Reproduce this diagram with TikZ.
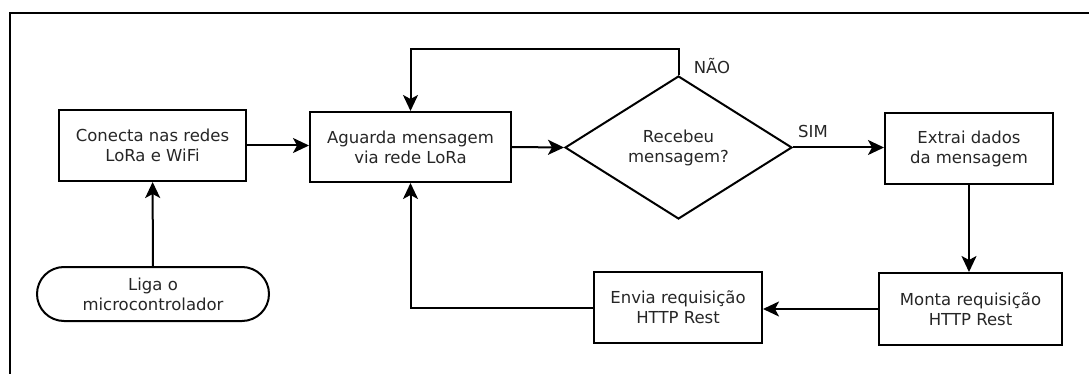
\documentclass[tikz,border=0pt]{standalone}
\usepackage{fontspec}
\setmainfont{DejaVu Sans}
\usetikzlibrary{shapes.geometric,shapes.misc,arrows.meta}
\begin{document}
\begin{tikzpicture}[x=1pt,y=-1pt,
  every node/.style={font=\fontsize{16.5}{20}\selectfont, text=black!85},
  procbox/.style={draw=black, line width=2pt, align=center, inner sep=0pt},
  startbox/.style={draw=black, line width=2pt, align=center, inner sep=0pt, rounded rectangle},
  decbox/.style={draw=black, line width=2pt, align=center, inner sep=0pt, diamond},
  flow/.style={line width=2pt, -{Stealth[length=16pt,width=15pt,inset=4pt]}},
  lbl/.style={inner sep=0pt}]
\useasboundingbox (0,0) rectangle (1089,374);
\draw[line width=2pt] (10,374) -- (10,13) -- (1089,13);

\node[procbox, minimum width=187pt, minimum height=71pt] (conecta) at (152.5,145.5) {Conecta nas redes\\LoRa e WiFi};
\node[procbox, minimum width=201pt, minimum height=70pt] (aguarda) at (410.5,147) {Aguarda mensagem\\via rede LoRa};
\node[startbox, minimum width=232pt, minimum height=54pt] (liga) at (153,294) {Liga o\\microcontrolador};
\node[decbox, minimum width=227pt, minimum height=143pt] (dec) at (678.5,147.5) {Recebeu\\mensagem?};
\node[procbox, minimum width=168pt, minimum height=71pt] (extrai) at (969,148.5) {Extrai dados\\da mensagem};
\node[procbox, minimum width=183pt, minimum height=72pt] (monta) at (970.5,309) {Monta requisição\\HTTP Rest};
\node[procbox, minimum width=168pt, minimum height=71pt] (envia) at (678,307.5) {Envia requisição\\HTTP Rest};

\node[lbl] (nao) at (712,66) {NÃO};
\node[lbl] (sim) at (813,131) {SIM};

\coordinate (loopT) at (410.5,49);

\draw[flow] (liga) -- (conecta);
\draw[flow] (conecta.east) -- (conecta.east -| aguarda.west);
\draw[flow] (aguarda.east) -- (dec.west);
\draw[flow] (dec.east) -- (dec.east -| extrai.west);
\draw[flow] (dec.north) |- (loopT) -- (aguarda.north);
\draw[flow] (extrai.south) -- (extrai.south |- monta.north);
\draw[flow] (monta.west) -- (monta.west -| envia.east);
\draw[flow] (envia.west) -| (aguarda.south);
\end{tikzpicture}
\end{document}
